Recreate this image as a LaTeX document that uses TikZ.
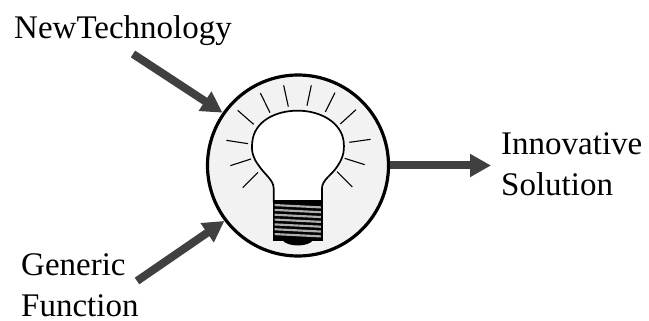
\documentclass[tikz,border=0pt]{standalone}
\usepackage{fontspec}
\setmainfont{Liberation Serif}
\usetikzlibrary{arrows.meta}
\definecolor{arrowgrey}{HTML}{404040}
\tikzset{
  label text/.style={font=\fontsize{33}{41}\selectfont, inner sep=0pt, align=left, text=black},
  flow/.style={draw=arrowgrey, line width=8pt, -{Triangle[length=21pt,width=22pt,fill=arrowgrey]}},
  ray/.style={black, line width=1.1pt},
  bulb outline/.style={draw=black, line width=1.7pt, fill=white},
  ringbox/.style={circle, draw=black, line width=3.2pt, fill=black!5, minimum size=181pt, inner sep=0pt}
}
\begin{document}
\begin{tikzpicture}[x=1pt,y=-1pt]
\useasboundingbox (0,0) rectangle (649,321);
\node[ringbox] (ring) at (298,165.5) {};
\node[label text, anchor=base west] (tech) at (14,39) {NewTechnology};
\node[label text, anchor=base west] (gen) at (21,316.5) {Generic\\Function};
\node[label text, anchor=base west] (sol) at (501,195) {Innovative\\Solution};
\coordinate (s1) at (133,54);
\coordinate (s2) at (137,281);
\coordinate (e3) at (491,165.5);
\draw[flow] (s1) -- (ring.145);
\draw[flow] (s2) -- (ring.217.5);
\draw[flow] (ring.0) -- (e3);
\begin{scope}[shift={(190,60)},x=0.3333pt,y=-0.3333pt]
  \foreach \a/\b/\c/\d in {
    281/76/295/140, 364/76/351/137, 435/98/406/156, 211/99/240/158,
    498/149/451/192, 143/151/191/193, 542/238/478/247, 109/241/174/251,
    524/314/464/295, 121/317/183/297, 487/381/441/335, 158/383/204/337}
    \draw[ray] (\a,\b) -- (\c,\d);
  \path[bulb outline] (251,425) -- (251,385)
    .. controls (251,360) and (225,345) .. (205,315)
    .. controls (190,295) and (183,275) .. (187,245)
    .. controls (193,185) and (255,152) .. (323,152)
    .. controls (395,152) and (455,190) .. (461,245)
    .. controls (465,280) and (455,300) .. (440,322)
    .. controls (425,345) and (396,360) .. (396,385)
    -- (396,425) -- cycle;
  \fill[black] (277,540) .. controls (292,562) and (355,562) .. (370,540) -- cycle;
  \fill[black] (248,421) rectangle (399,542);
  \foreach \i in {0,...,6}
    \fill[black!32] (254,{432+\i*14.5}) -- (393,{439+\i*14.5}) -- (393,{445.5+\i*14.5}) -- (254,{438.5+\i*14.5}) -- cycle;
\end{scope}
\end{tikzpicture}
\end{document}
